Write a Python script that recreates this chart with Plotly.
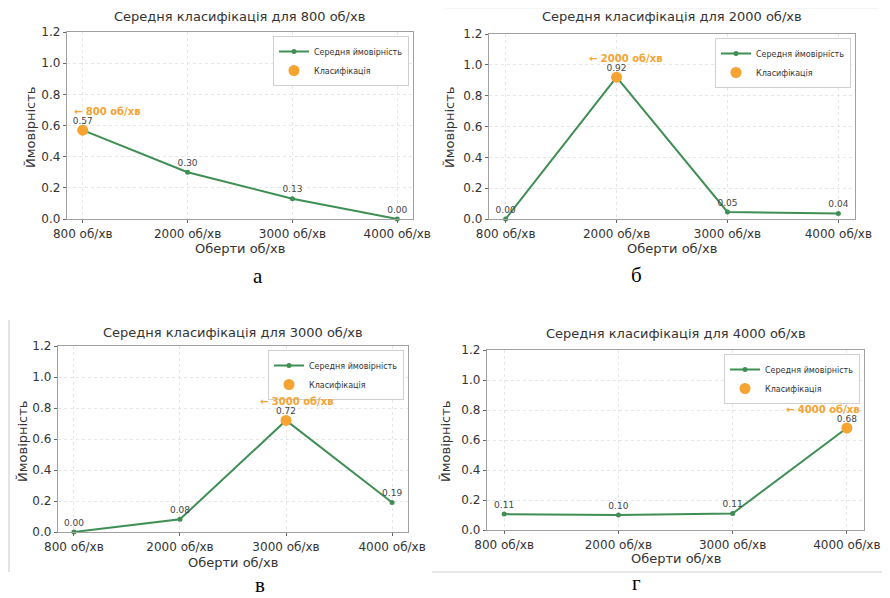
import plotly.graph_objects as go

# The page body adds an 8px offset; the figure fills the rest of the 890x598 window.
OFF = 8
W, H = 890 - OFF, 598 - OFF

categories = ["800 об/хв", "2000 об/хв", "3000 об/хв", "4000 об/хв"]
panel_titles = [
    "Середня класифікація для 800 об/хв",
    "Середня класифікація для 2000 об/хв",
    "Середня класифікація для 3000 об/хв",
    "Середня класифікація для 4000 об/хв",
]
panel_letters = ["а", "б", "в", "г"]
probs_800 = [0.57, 0.30, 0.13, 0.00]
probs_2000 = [0.00, 0.92, 0.046, 0.036]
probs_3000 = [0.00, 0.082, 0.72, 0.19]
probs_4000 = [0.106, 0.10, 0.11, 0.68]
classified_index = [0, 1, 2, 3]
y_ticks = [0.0, 0.2, 0.4, 0.6, 0.8, 1.0, 1.2]

series = [probs_800, probs_2000, probs_3000, probs_4000]

# layout in window pixels: (left, right, top, bottom) of each plot area
boxes = [(67, 413, 32, 219), (489, 855, 34, 219), (58, 408, 346, 532), (487, 864, 350, 530)]
title_pos = [(240, 16), (672, 17), (233, 332), (676, 333)]
xtitle_pos = [(240, 248), (672, 248), (233, 562), (676, 558)]
ytitle_pos = [(30, 127), (449, 127), (22, 441), (445, 441)]
letter_pos = [(258, 276), (636, 275), (260, 585), (636, 583)]
note_shift = [-11, -30, -28, -63]

GREEN = "#3f8f55"
ORANGE = "#f5a331"
TXT = "#333333"
FONT = "DejaVu Sans"

def px(x):
    return (x - OFF) / W

def py(y):
    return 1 - (y - OFF) / H

fig = go.Figure()
annotations = []
layout = {}

def label(x, y, text, size, color=TXT, family=FONT, angle=0):
    annotations.append(dict(x=px(x), y=py(y), xref="paper", yref="paper",
                            xanchor="center", yanchor="middle",
                            text=text, showarrow=False, textangle=angle,
                            font=dict(size=size, color=color, family=family)))

for i, vals in enumerate(series):
    n = "" if i == 0 else str(i + 1)
    xa, ya = "x" + n, "y" + n
    leg = "legend" + n
    fig.add_trace(go.Scatter(
        x=categories, y=vals, mode="lines+markers+text",
        text=[f"{v:.2f}" for v in vals], textposition="top center",
        textfont=dict(size=9, color="#444444", family=FONT),
        line=dict(color=GREEN, width=2), marker=dict(size=5, color=GREEN),
        name="Середня ймовірність", xaxis=xa, yaxis=ya, legend=leg,
        cliponaxis=False,
    ))
    k = classified_index[i]
    fig.add_trace(go.Scatter(
        x=[categories[k]], y=[vals[k]], mode="markers",
        marker=dict(size=11, color=ORANGE),
        name="Класифікація", xaxis=xa, yaxis=ya, legend=leg,
        cliponaxis=False,
    ))
    l, r, t, b = boxes[i]
    axis_common = dict(
        showline=True, mirror=True, linecolor="#a0a0a0", linewidth=1.3,
        showgrid=True, gridcolor="#e6e6e6", griddash="dot", gridwidth=1,
        ticks="outside", ticklen=3, tickcolor="#666", zeroline=False,
        tickfont=dict(size=12, color=TXT, family=FONT), automargin=False,
    )
    layout["xaxis" + n] = dict(
        domain=[px(l), px(r)], anchor=ya, type="category",
        categoryorder="array", categoryarray=categories,
        range=[-0.15, 3.15], **axis_common)
    layout["yaxis" + n] = dict(
        domain=[py(b), py(t)], anchor=xa, range=[0, 1.2],
        tickvals=y_ticks, tickformat=".1f", **axis_common)
    layout[leg] = dict(
        x=px(r - 4), y=py(t + 4), xanchor="right", yanchor="top",
        bgcolor="rgba(255,255,255,0.9)", bordercolor="#d0d0d0", borderwidth=1,
        font=dict(size=8, color=TXT, family=FONT), itemwidth=30,
        tracegroupgap=0,
    )
    label(*title_pos[i], panel_titles[i], 13)
    label(*xtitle_pos[i], "Оберти об/хв", 13)
    label(*ytitle_pos[i], "Ймовірність", 13, angle=-90)
    label(*letter_pos[i], panel_letters[i], 21, color="#000", family="Liberation Serif")
    annotations.append(dict(x=categories[k], y=vals[k], xref=xa, yref=ya,
                            text="← " + categories[k], showarrow=False,
                            xanchor="left", yanchor="middle",
                            xshift=note_shift[i], yshift=19,
                            font=dict(size=10, color=ORANGE, family=FONT, weight="bold")))

def hline(x0, x1, y, color):
    return dict(type="line", xref="paper", yref="paper", x0=px(x0), x1=px(x1),
                y0=py(y), y1=py(y), line=dict(color=color, width=1))

shapes = [
    dict(type="line", xref="paper", yref="paper", x0=px(9), x1=px(9), y0=py(320), y1=py(572),
         line=dict(color="#c8c8c8", width=1)),
    hline(432, 890, 572, "#d0d0d0"),
    hline(445, 878, 8, "#ececec"),
]

fig.update_layout(
    width=W, height=H, margin=dict(l=0, r=0, t=0, b=0, autoexpand=False),
    paper_bgcolor="white", plot_bgcolor="white",
    annotations=annotations, shapes=shapes, showlegend=True,
    **layout,
)

fig.write_html("out.html")
